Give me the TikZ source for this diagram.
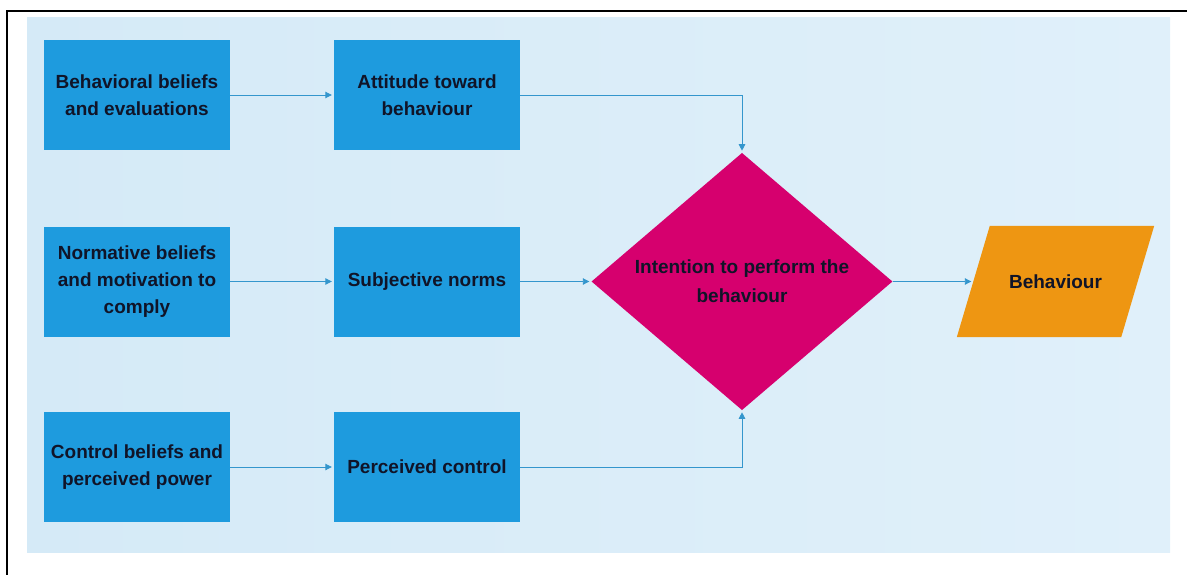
\documentclass[tikz,border=0pt]{standalone}
\usepackage{fontspec}
\setmainfont{Liberation Sans}
\usetikzlibrary{shapes.geometric,arrows.meta}
\pgfdeclarelayer{background}
\pgfsetlayers{background,main}
\definecolor{boxblue}{RGB}{30,155,222}
\definecolor{magentac}{RGB}{214,0,110}
\definecolor{orangec}{RGB}{238,150,18}
\definecolor{bgleft}{RGB}{213,234,247}
\definecolor{bgright}{RGB}{224,240,250}
\definecolor{linec}{RGB}{52,150,205}
\definecolor{txtc}{RGB}{16,20,40}
\tikzset{
  stepbox/.style={rectangle, fill=boxblue, minimum width=186pt, minimum height=110pt,
    inner sep=0pt, align=center, text=txtc, font=\fontsize{19}{27}\selectfont\bfseries},
  decisionbox/.style={diamond, fill=magentac, minimum width=301pt, minimum height=257pt,
    inner sep=0pt, align=center, text=txtc, font=\fontsize{19}{29}\selectfont\bfseries},
  outbox/.style={rectangle, minimum width=164pt, minimum height=111pt,
    inner sep=0pt, align=center, text=txtc, font=\fontsize{19}{27}\selectfont\bfseries},
  flow/.style={draw=linec, line width=0.9pt, -{Triangle[length=6.5pt,width=6.5pt]}, shorten >=2pt}
}
\begin{document}
\begin{tikzpicture}[x=1pt,y=-1pt]
\useasboundingbox (0,0) rectangle (1187,575);
\begin{pgfonlayer}{background}
\fill[white] (0,0) rectangle (1187,575);
\shade[left color=bgleft, right color=bgright] (27,18) rectangle (1170,552);
\end{pgfonlayer}
\draw[black, line width=2.5pt] (7,575) -- (7,11) -- (1187,11);

\node[stepbox] (b1) at (137,95) {Behavioral beliefs\\and evaluations};
\node[stepbox] (a1) at (427,95) {Attitude toward\\behaviour};
\node[stepbox] (b2) at (137,281.5) {Normative beliefs\\and motivation to\\comply};
\node[stepbox] (s2) at (427,281.5) {Subjective norms};
\node[stepbox] (b3) at (137,467) {Control beliefs and\\perceived power};
\node[stepbox] (p3) at (427,467) {Perceived control};
\node[decisionbox] (int) at (742,281.5) {Intention to perform the\\behaviour};
\node[outbox] (beh) at (1055.5,281.5) {Behaviour};
\begin{pgfonlayer}{background}
\fill[orangec] ([xshift=-16.5pt]beh.south west) -- ([xshift=-16.5pt]beh.south east)
  -- ([xshift=16.5pt]beh.north east) -- ([xshift=16.5pt]beh.north west) -- cycle;
\end{pgfonlayer}

\draw[flow] (b1.east) -- (a1.west);
\draw[flow] (b2.east) -- (s2.west);
\draw[flow] (b3.east) -- (p3.west);
\draw[flow] (a1.east) -| (int.north);
\draw[flow] (s2.east) -- (int.west);
\draw[flow] (p3.east) -| (int.south);
\draw[flow] (int.east) -- (beh.west);
\end{tikzpicture}
\end{document}
